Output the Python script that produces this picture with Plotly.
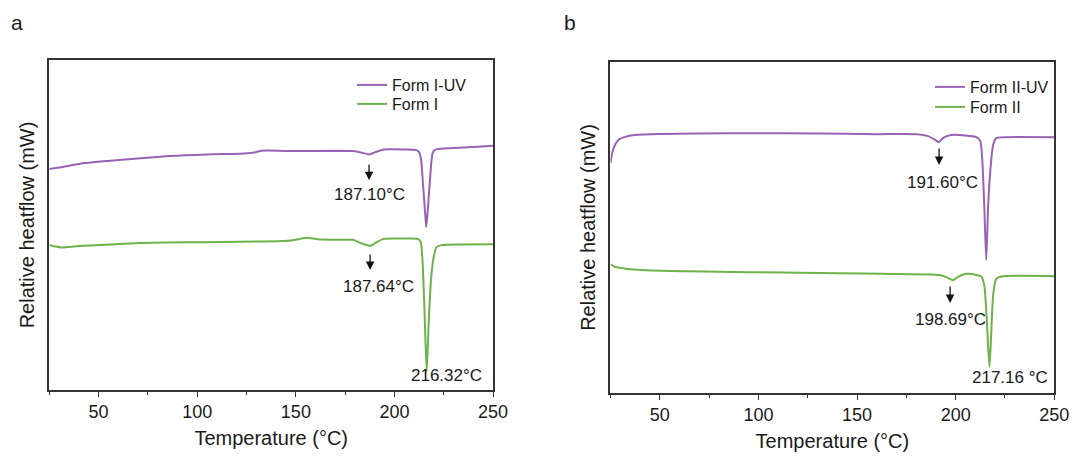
import plotly.graph_objects as go

# DSC traces, temperature in °C, relative heat flow in mW (offset for stacking)
temp_form1_uv = [25, 30, 43, 60, 86, 105, 124, 129, 132.6, 150, 170, 179, 183, 187.1, 190.5,
                 194.6, 205, 211, 212.5, 213.5, 214.5, 215.5, 216.1, 216.8, 217.8, 218.8,
                 219.5, 221, 230, 240, 250]
heat_form1_uv = [6.70, 6.74, 6.88, 6.97, 7.09, 7.14, 7.17, 7.20, 7.25, 7.24, 7.25, 7.24, 7.20,
                 7.14, 7.21, 7.29, 7.29, 7.27, 7.21, 6.97, 6.21, 5.39, 4.94, 5.39, 6.21, 6.97,
                 7.21, 7.29, 7.33, 7.36, 7.40]

temp_form1 = [25, 28, 31, 40, 69, 100, 146, 151, 155.8, 161, 172, 179, 183, 187.64, 191, 194.6,
              205, 211.8, 213.3, 214.2, 215.2, 216.32, 217.4, 218.5, 219.8, 221.3, 223.8, 235, 250]
heat_form1 = [4.39, 4.35, 4.32, 4.36, 4.45, 4.48, 4.52, 4.57, 4.61, 4.57, 4.55, 4.55, 4.45,
              4.37, 4.48, 4.58, 4.59, 4.58, 4.48, 3.94, 2.42, 0.55, 2.12, 3.33, 4.00, 4.33,
              4.39, 4.41, 4.42]

temp_form2_uv = [25, 26, 27.5, 29.5, 32, 36, 45, 70, 97, 130, 160, 180, 186, 189, 191.6, 193.5,
                 197, 205, 210.5, 212.5, 213.5, 214.5, 215.5, 216.5, 217.8, 219, 220.5, 225, 250]
heat_form2_uv = [6.95, 7.28, 7.52, 7.67, 7.73, 7.79, 7.82, 7.84, 7.85, 7.84, 7.82, 7.82, 7.76,
                 7.67, 7.58, 7.70, 7.79, 7.78, 7.73, 7.61, 7.04, 5.68, 4.02, 5.68, 6.89, 7.49,
                 7.70, 7.73, 7.73]

temp_form2 = [25, 27, 30, 33.5, 50.7, 100, 162.5, 188, 193, 196, 198.69, 201, 205.5, 211, 213,
              214.5, 215.5, 216.3, 217.16, 218, 219, 220.5, 223, 250]
heat_form2 = [3.89, 3.82, 3.78, 3.75, 3.69, 3.65, 3.60, 3.58, 3.55, 3.48, 3.41, 3.50, 3.60,
              3.56, 3.52, 3.26, 2.51, 1.60, 0.79, 1.75, 2.96, 3.44, 3.52, 3.53]

# Labelled transition temperatures
peaks_a = [187.10, 187.64, 216.32]
peaks_b = [191.60, 198.69, 217.16]

PURPLE = "#9a62b5"
GREEN = "#6db24a"
AXIS = "#333333"
TEXT = "#1a1a1a"
FONT = "Liberation Sans, Arial, sans-serif"

W, H = 1089, 456

fig = go.Figure()

series = [
    (temp_form1_uv, heat_form1_uv, "Form I-UV", PURPLE, "x", "y", "legend"),
    (temp_form1, heat_form1, "Form I", GREEN, "x", "y", "legend2"),
    (temp_form2_uv, heat_form2_uv, "Form II-UV", PURPLE, "x2", "y2", "legend3"),
    (temp_form2, heat_form2, "Form II", GREEN, "x2", "y2", "legend4"),
]
for xs, ys, name, color, xa, ya, lg in series:
    fig.add_trace(go.Scatter(x=xs, y=ys, name=name, mode="lines", line_shape="spline",
                             line=dict(color=color, width=2, smoothing=0.6),
                             xaxis=xa, yaxis=ya, legend=lg))

xaxis_common = dict(
    range=[25, 250], tickmode="linear", tick0=0, dtick=50, ticks="outside", ticklen=5,
    tickwidth=1.3, tickcolor=AXIS, showline=True, linecolor=AXIS, linewidth=1.6,
    mirror=True, showgrid=False, zeroline=False,
    tickfont=dict(family=FONT, size=18, color=TEXT),
    title=dict(text="Temperature (°C)", font=dict(family=FONT, size=20, color=TEXT),
               standoff=10),
    minor=dict(dtick=25, ticks="outside", ticklen=3, tickwidth=1.3,
               tickcolor=AXIS, showgrid=False),
)
yaxis_common = dict(
    range=[0, 10], showticklabels=False, ticks="", showline=True, linecolor=AXIS,
    linewidth=1.6, mirror=True, showgrid=False, zeroline=False,
    title=dict(text="Relative heatflow (mW)", font=dict(family=FONT, size=20, color=TEXT),
               standoff=8),
)


def legend_box(x_px, y_px):
    return dict(x=x_px / W, y=1 - y_px / H, xanchor="left", yanchor="top",
                bgcolor="rgba(0,0,0,0)", font=dict(family=FONT, size=16, color=TEXT),
                itemwidth=30)


fig.update_layout(
    width=W, height=H, margin=dict(l=0, r=0, t=0, b=0),
    paper_bgcolor="white", plot_bgcolor="white",
    xaxis=dict(domain=[50 / W, 500 / W], anchor="y", **xaxis_common),
    yaxis=dict(domain=[1 - 390 / H, 1 - 60 / H], anchor="x", **yaxis_common),
    xaxis2=dict(domain=[619 / W, 1069 / W], anchor="y2", **xaxis_common),
    yaxis2=dict(domain=[1 - 393 / H, 1 - 62 / H], anchor="x2", **yaxis_common),
    legend=legend_box(357, 68),
    legend2=legend_box(357, 87),
    legend3=legend_box(943, 70),
    legend4=legend_box(943, 90),
    showlegend=True,
)

ann_font = dict(family=FONT, size=17, color=TEXT)
annotations = []


def arrow(xref, yref, x, y_tip, length):
    annotations.append(dict(
        x=x, y=y_tip, xref=xref, yref=yref, text="", showarrow=True,
        ax=0, ay=-length, axref="pixel", ayref="pixel",
        arrowhead=2, arrowsize=1.3, arrowwidth=1.3, arrowcolor="#111111"))


def label(xref, yref, x, y, text):
    annotations.append(dict(
        x=x, y=y, xref=xref, yref=yref, text=text, showarrow=False,
        font=ann_font, xanchor="center", yanchor="middle"))


# panel a
arrow("x", "y", peaks_a[0], 6.36, 17)
label("x", "y", peaks_a[0], 5.91, f"{peaks_a[0]:.2f}°C")
arrow("x", "y", peaks_a[1], 3.64, 17)
label("x", "y", peaks_a[1] + 4.4, 3.13, f"{peaks_a[1]:.2f}°C")
label("x", "y", peaks_a[2] + 10, 0.43, f"{peaks_a[2]:.2f}°C")

# panel b
arrow("x2", "y2", peaks_b[0], 6.89, 18)
label("x2", "y2", peaks_b[0] + 1.7, 6.37, f"{peaks_b[0]:.2f}°C")
arrow("x2", "y2", peaks_b[1] - 1.5, 2.72, 18)
label("x2", "y2", peaks_b[1] - 1.2, 2.21, f"{peaks_b[1]:.2f}°C")
label("x2", "y2", peaks_b[2] + 10.3, 0.48, f"{peaks_b[2]:.2f} °C")

# panel letters
for letter, x_px in (("a", 17), ("b", 578)):
    annotations.append(dict(x=x_px / W, y=1 - 23 / H, xref="paper", yref="paper", text=letter,
                            showarrow=False, font=dict(family=FONT, size=21, color=TEXT),
                            xanchor="center", yanchor="middle"))

fig.update_layout(annotations=annotations)

fig.write_html("out.html")
